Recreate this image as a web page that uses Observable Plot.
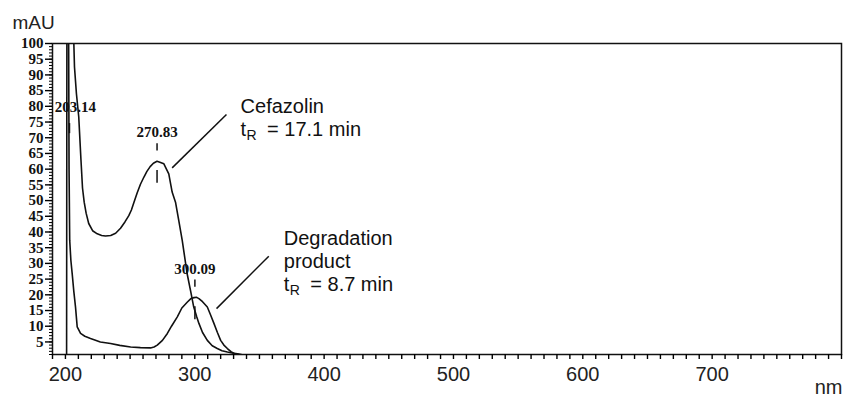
<!DOCTYPE html>
<html>
<head>
<meta charset="utf-8">
<script src="https://cdn.jsdelivr.net/npm/d3@7"></script>
<script src="https://cdn.jsdelivr.net/npm/@observablehq/plot@0.6"></script>
<style>
  html, body { margin: 0; padding: 0; background: #fff; }
  #chart svg { display: block; }
</style>
</head>
<body>
<div id="chart"></div>
<script>
// ---- Data (wavelength nm, absorbance mAU) ----
const cefNm = [205.6, 206.5, 207.0, 208.5, 210.3, 212.0, 213.2, 214.5, 216.0, 218.0, 221.0, 224.6, 228.0, 231.0, 235.0, 238.8, 242.6, 246.0, 249.0, 251.0, 253.0, 255.5, 258.0, 260.7, 263.0, 265.5, 268.0, 270.8, 273.0, 276.1, 279.9, 282.5, 285.1, 287.6, 290.3, 294.1, 296.8, 299.2, 301.5, 303.2, 306.0, 309.7, 313.5, 317.4, 321.0, 325.2, 329.0, 333.0, 336.0];
const cefAU = [110, 100, 92.5, 84, 76.6, 63, 54, 49.5, 46, 42.7, 40.4, 39.4, 38.9, 38.7, 38.9, 39.6, 41.2, 43.2, 45.2, 47, 49.5, 52.5, 55.2, 57.5, 59.3, 60.8, 61.9, 62.5, 62.2, 61.7, 58.5, 52.7, 49.5, 43.7, 37.3, 26.7, 21.2, 16.1, 13, 10.9, 8, 5.5, 3.8, 2.9, 2.2, 1.8, 1.5, 1.2, 1.0];

const degNm = [200.9, 201.2, 202.0, 202.5, 202.8, 203.3, 204.2, 205.2, 206.5, 207.8, 209.1, 211.7, 215.0, 219.4, 227.0, 234.9, 242.0, 250.4, 258.0, 265.8, 268.5, 271.0, 275.0, 278.8, 282.0, 286.5, 290.0, 294.3, 297.0, 299.4, 301.5, 303.2, 306.0, 309.7, 312.0, 314.8, 317.5, 320.0, 322.5, 325.2, 328.0, 330.4, 334.0];
const degAU = [0, 140, 130, 100, 60, 37.4, 31, 26.8, 21, 16.1, 9.8, 7.7, 6.8, 6.1, 5.0, 4.5, 3.9, 3.4, 3.2, 3.1, 3.4, 4.0, 5.5, 7.7, 10.0, 13.0, 15.8, 17.7, 18.8, 19.1, 19.2, 18.8, 17.8, 16.1, 13.8, 10.9, 8.0, 5.5, 4.0, 2.9, 1.9, 1.3, 1.0];

// Peak annotations
const peakNm = [203.14, 270.83, 300.09];
const peakAU = [null, 62.5, 19.1];          // 203.14 peak is off-scale
const peakText = ["203.14", "270.83", "300.09"];

// Callouts
const calloutLines = [["Cefazolin"], ["Degradation", "product"]];
const calloutTR = ["17.1", "8.7"];
const calloutNm = [335.4, 368.8];
const calloutAU = [77.8, 35.7];
const leaderFromNm = [282.5, 316.8];
const leaderFromAU = [60.4, 15.6];
const leaderToNm = [324.5, 357.2];
const leaderToAU = [77.4, 32.3];

// Axes
const xDomain = [190, 800];
const yDomain = [1, 100];
const xTicks = d3.range(190, 801, 10);
const xTickLabels = [200, 300, 400, 500, 600, 700];
const yMajorTicks = d3.range(5, 101, 5);
const yMinorTicks = d3.range(1, 101, 1);

// ---- Tables ----
const cefazolin = cefNm.map((x, i) => ({x, y: cefAU[i]}));
const degradation = degNm.map((x, i) => ({x, y: degAU[i]}));
const peaks = peakNm.map((x, i) => ({x, y: peakAU[i], label: peakText[i]}));
const onScalePeaks = peaks.filter(d => d.y != null);
const offScalePeaks = peaks.filter(d => d.y == null);
const leaders = leaderFromNm.map((x1, i) => ({x1, y1: leaderFromAU[i], x2: leaderToNm[i], y2: leaderToAU[i]}));

const SANS = "Liberation Sans, Arial, Helvetica, sans-serif";
const SERIF = "Liberation Serif, Times New Roman, serif";
const INK = "#111";

const calloutMarks = [];
calloutLines.forEach((lines, i) => {
  const anchor = [{x: calloutNm[i], y: calloutAU[i]}];
  lines.forEach((t, j) => {
    calloutMarks.push(Plot.text(anchor, {x: "x", y: "y", text: () => t, textAnchor: "start", lineAnchor: "bottom",
      dy: j * 22.6, fontSize: 20, fontFamily: SANS, fill: INK}));
  });
  const dyT = lines.length * 22.6;
  calloutMarks.push(Plot.text(anchor, {x: "x", y: "y", text: () => "t", textAnchor: "start", lineAnchor: "bottom",
    dy: dyT, fontSize: 20, fontFamily: SANS, fill: INK}));
  calloutMarks.push(Plot.text(anchor, {x: "x", y: "y", text: () => "R", textAnchor: "start", lineAnchor: "bottom",
    dx: 6, dy: dyT + 4.5, fontSize: 14, fontFamily: SANS, fill: INK}));
  calloutMarks.push(Plot.text(anchor, {x: "x", y: "y", text: () => `= ${calloutTR[i]} min`, textAnchor: "start", lineAnchor: "bottom",
    dx: 26.5, dy: dyT, fontSize: 20, fontFamily: SANS, fill: INK}));
});

const chart = Plot.plot({
  width: 844,
  height: 396,
  marginLeft: 52,
  marginRight: 3,
  marginTop: 43,
  marginBottom: 42,
  style: {background: "#fff", overflow: "visible"},
  x: {domain: xDomain},
  y: {domain: yDomain},
  marks: [
    Plot.line(degradation, {x: "x", y: "y", stroke: INK, strokeWidth: 1.6, clip: true}),
    Plot.line(cefazolin, {x: "x", y: "y", stroke: INK, strokeWidth: 1.6, clip: true}),
    // peak dashes
    Plot.ruleX(onScalePeaks, {x: "x", y1: d => d.y + 3.3, y2: d => d.y + 5.6, stroke: INK, strokeWidth: 1.5}),
    Plot.ruleX(onScalePeaks, {x: "x", y1: d => d.y - 2.9, y2: d => d.y - 7.0, stroke: INK, strokeWidth: 1.5}),
    Plot.ruleX(offScalePeaks, {x: "x", y1: 71.3, y2: 74.5, stroke: INK, strokeWidth: 1.5}),
    // peak labels
    Plot.text(onScalePeaks, {x: "x", y: "y", text: "label", lineAnchor: "bottom", dy: -24,
      fontSize: 15, fontWeight: "bold", fontFamily: SERIF, fill: INK}),
    Plot.text(offScalePeaks, {x: "x", y: () => 78.2, text: "label", lineAnchor: "bottom", dx: 6,
      fontSize: 15, fontWeight: "bold", fontFamily: SERIF, fill: INK}),
    // leader lines
    Plot.link(leaders, {x1: "x1", y1: "y1", x2: "x2", y2: "y2", stroke: INK, strokeWidth: 1.5}),
    ...calloutMarks,
    // frame and axes
    Plot.frame({stroke: INK, strokeWidth: 1.5}),
    Plot.axisX({ticks: xTicks, tickSize: 5, tickPadding: 6.8, strokeWidth: 1.4,
      tickFormat: d => xTickLabels.includes(d) ? String(d) : "",
      fontSize: 20, fontFamily: SANS, fill: "#222", label: null}),
    Plot.axisY({ticks: yMinorTicks, tickSize: 3, tickFormat: () => "", strokeWidth: 1, label: null}),
    Plot.axisY({ticks: yMajorTicks, tickSize: 7, tickPadding: 2, strokeWidth: 1.4,
      fontSize: 15, fontWeight: "bold", fontFamily: SERIF, fill: INK, label: null}),
    // unit labels
    Plot.text(["mAU"], {frameAnchor: "top-left", textAnchor: "start", lineAnchor: "bottom",
      dx: -40, dy: -15, fontSize: 19, fontFamily: SANS, fill: "#222"}),
    Plot.text(["nm"], {frameAnchor: "bottom-right", textAnchor: "end", lineAnchor: "bottom",
      dx: 1, dy: 39, fontSize: 20, fontFamily: SANS, fill: "#222"})
  ]
});

document.getElementById("chart").appendChild(chart);
</script>
</body>
</html>
